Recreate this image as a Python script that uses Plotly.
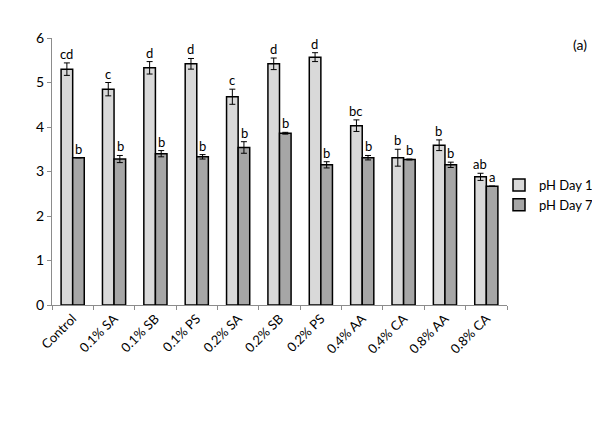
import plotly.graph_objects as go

categories = ["Control", "0.1% SA", "0.1% SB", "0.1% PS", "0.2% SA", "0.2% SB",
              "0.2% PS", "0.4% AA", "0.4% CA", "0.8% AA", "0.8% CA"]
day1 = [5.30, 4.85, 5.33, 5.42, 4.68, 5.42, 5.57, 4.03, 3.31, 3.59, 2.88]
day1_err = [0.14, 0.15, 0.14, 0.12, 0.17, 0.13, 0.10, 0.13, 0.19, 0.12, 0.08]
day7 = [3.31, 3.28, 3.40, 3.33, 3.54, 3.86, 3.15, 3.31, 3.27, 3.15, 2.67]
day7_err = [0.0, 0.08, 0.07, 0.05, 0.13, 0.02, 0.07, 0.05, 0.01, 0.06, 0.0]
day1_letters = ["cd", "c", "d", "d", "c", "d", "d", "bc", "b", "b", "ab"]
day7_letters = ["b", "b", "b", "b", "b", "b", "b", "b", "b", "b", "a"]

FONT = "Lato"

fig = go.Figure()
fig.add_trace(go.Bar(
    x=categories, y=day1, name="pH Day 1",
    marker=dict(color="#d9d9d9", line=dict(color="black", width=1.5)),
    error_y=dict(type="data", array=day1_err, visible=True, color="black", thickness=1, width=3),
))
fig.add_trace(go.Bar(
    x=categories, y=day7, name="pH Day 7",
    marker=dict(color="#a6a6a6", line=dict(color="black", width=1.5)),
    error_y=dict(type="data", array=day7_err, visible=True, color="black", thickness=1, width=3),
))

for c, v, e, t in zip(categories, day1, day1_err, day1_letters):
    fig.add_annotation(x=c, y=v + e, text=t, showarrow=False, xref="x", yref="y",
                       xshift=-6, yanchor="bottom", xanchor="center", yshift=-1,
                       font=dict(family=FONT, size=13, color="black"))
for c, v, e, t in zip(categories, day7, day7_err, day7_letters):
    fig.add_annotation(x=c, y=v + e, text=t, showarrow=False, xref="x", yref="y",
                       xshift=6, yanchor="bottom", xanchor="center", yshift=-1,
                       font=dict(family=FONT, size=13, color="black"))

# plot area: screen x 52..507, y 38..305 (page body adds 8px offset)
fig.add_annotation(x=(580 - 52) / 455, y=(305 - 45) / 267, xref="paper", yref="paper",
                   text="(a)", showarrow=False, xanchor="center", yanchor="middle",
                   font=dict(family=FONT, size=14, color="black"))

fig.update_layout(
    width=592, height=414,
    margin=dict(l=44, r=93, t=30, b=117, autoexpand=False),
    paper_bgcolor="white", plot_bgcolor="white",
    barmode="group", bargap=0.44, bargroupgap=0,
    font=dict(family=FONT, size=13, color="black"),
    showlegend=True,
    legend=dict(x=(548 - 1) / 455, y=(305 - 195) / 267, xanchor="right", yanchor="middle",
                font=dict(family=FONT, size=13, color="black"),
                itemwidth=30, tracegroupgap=4, bgcolor="rgba(0,0,0,0)"),
)
fig.update_xaxes(type="category", showline=True, linecolor="#8c8c8c", linewidth=1,
                 ticks="outside", tickson="boundaries", ticklen=4, tickcolor="#8c8c8c",
                 tickangle=-45, tickfont=dict(family=FONT, size=13, color="black"),
                 showgrid=False, automargin=False)
fig.update_yaxes(range=[0, 6], dtick=1, showline=True, linecolor="#8c8c8c", linewidth=1,
                 ticks="outside", ticklen=4, tickcolor="#8c8c8c", showgrid=False,
                 zeroline=False, automargin=False,
                 tickfont=dict(family=FONT, size=14, color="black"))

fig.write_html("out.html")
